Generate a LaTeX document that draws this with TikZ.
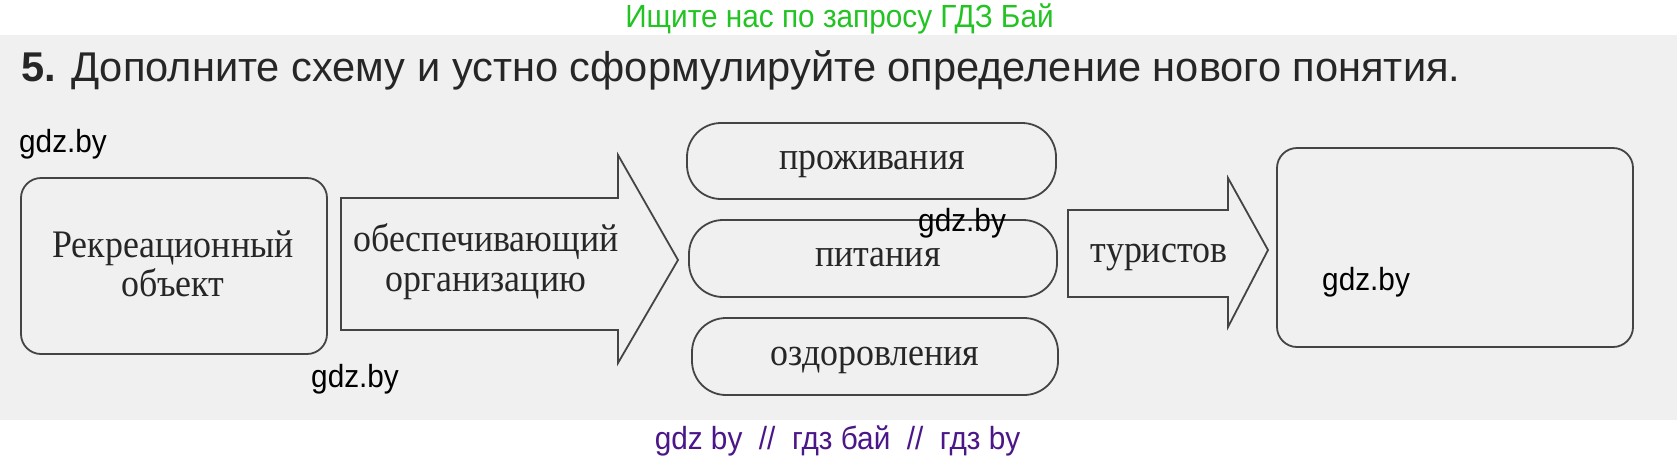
\documentclass[tikz,border=0pt]{standalone}
\usepackage{fontspec}
\setmainfont{Liberation Serif}
\newfontfamily\lblfont{Liberation Serif}[FakeStretch=0.92]
\newfontfamily\sansf{Liberation Sans}
\newfontfamily\wmfont{Liberation Sans}[FakeStretch=0.93]
\definecolor{linegray}{HTML}{444444}
\definecolor{textgray}{HTML}{262626}
\definecolor{titlegray}{HTML}{262626}
\definecolor{bggray}{HTML}{F0F0F0}
\definecolor{wmgreen}{HTML}{22C322}
\definecolor{wmpurple}{HTML}{4B1688}
\begin{document}
\begin{tikzpicture}[x=1pt,y=-1pt,
  box/.style={draw=linegray, line width=1.8pt, rounded corners=20pt},
  pill/.style={draw=linegray, line width=1.8pt, rounded corners=34pt},
  arr/.style={draw=linegray, line width=1.8pt, line join=miter},
  lbl/.style={font=\lblfont\fontsize{39}{41}\selectfont, text=textgray, inner sep=0pt, anchor=base},
  wm/.style={font=\wmfont\fontsize{32}{32}\selectfont, text=black, inner sep=0pt, anchor=base west}]
\useasboundingbox (0,0) rectangle (1677,456);
\fill[bggray] (0,35) rectangle (1677,420);

% header texts
\node[font=\wmfont\fontsize{32}{32}\selectfont, text=wmgreen, anchor=base, inner sep=0pt] (top) at (839.5,27) {Ищите нас по запросу ГДЗ Бай};
\node[anchor=base west, inner sep=0pt, font=\sansf\fontsize{41.6}{44}\selectfont, text=titlegray] (title) at (21,81) {\textbf{5.} Дополните схему и устно сформулируйте определение нового понятия.};

% left box
\node[box, minimum width=306pt, minimum height=176pt] (obj) at (174,266) {};
\node[lbl] (obj1) at (173,257) {Рекреационный};
\node[lbl] (obj2) at (173,296) {объект};

% arrow 1
\coordinate (a1) at (341,198);
\coordinate (a2) at (618,198);
\coordinate (a3) at (618,155);
\coordinate (a4) at (678,260);
\coordinate (a5) at (618,363);
\coordinate (a6) at (618,330);
\coordinate (a7) at (341,330);
\draw[arr] (a1) -- (a2) -- (a3) -- (a4) -- (a5) -- (a6) -- (a7) -- cycle;
\node[lbl] (org1) at (486,251) {обеспечивающий};
\node[lbl] (org2) at (486,291) {организацию};

% three pills
\node[pill, minimum width=369pt, minimum height=76pt] (p1) at (871.5,161) {};
\node[lbl] (t1) at (872,169) {проживания};
\node[pill, minimum width=368pt, minimum height=77pt] (p2) at (873,258.5) {};
\node[lbl] (t2) at (878,266) {питания};
\node[pill, minimum width=366pt, minimum height=77pt] (p3) at (875,356.5) {};
\node[lbl] (t3) at (875,365) {оздоровления};

% arrow 2
\coordinate (b1) at (1068,210);
\coordinate (b2) at (1228,210);
\coordinate (b3) at (1228,178);
\coordinate (b4) at (1268,250);
\coordinate (b5) at (1228,327);
\coordinate (b6) at (1228,297);
\coordinate (b7) at (1068,297);
\draw[arr] (b1) -- (b2) -- (b3) -- (b4) -- (b5) -- (b6) -- (b7) -- cycle;
\node[lbl] (tur) at (1159,262) {туристов};

% right empty box
\node[box, minimum width=356pt, minimum height=199pt] (res) at (1455,247.5) {};

% watermarks
\node[wm] (w1) at (19,152) {gdz.by};
\node[wm] (w2) at (918,231) {gdz.by};
\node[wm] (w3) at (1322,290) {gdz.by};
\node[wm] (w4) at (311,387) {gdz.by};

\node[font=\wmfont\fontsize{32}{32}\selectfont, text=wmpurple, anchor=base, inner sep=0pt] (bot) at (837.5,449) {gdz by\ \ //\ \ гдз бай\ \ //\ \ гдз by};
\end{tikzpicture}
\end{document}
